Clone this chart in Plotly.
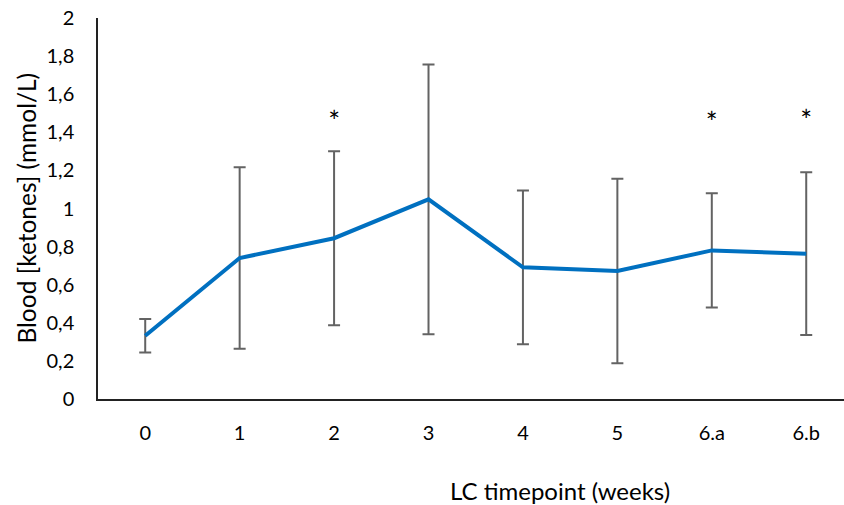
import plotly.graph_objects as go

# Timepoints on the LC protocol and mean blood ketone levels (mmol/L)
timepoints = ["0", "1", "2", "3", "4", "5", "6.a", "6.b"]
ketones = [0.332, 0.74, 0.844, 1.048, 0.691, 0.672, 0.78, 0.763]
ketones_err = [0.088, 0.476, 0.457, 0.708, 0.404, 0.484, 0.30, 0.427]

# Significance markers: timepoint and height
sig_points = ["2", "6.a", "6.b"]
sig_heights = [1.44, 1.433, 1.445]

y_ticks = [0, 0.2, 0.4, 0.6, 0.8, 1, 1.2, 1.4, 1.6, 1.8, 2]
y_ticklabels = ["0", "0,2", "0,4", "0,6", "0,8", "1", "1,2", "1,4", "1,6", "1,8", "2"]

FONT = "Lato, Calibri, Carlito, sans-serif"
x_idx = list(range(len(timepoints)))

fig = go.Figure()
fig.add_trace(go.Scatter(
    x=x_idx, y=ketones,
    mode="lines",
    line=dict(color="#0070C0", width=4),
    error_y=dict(type="data", array=ketones_err, visible=True,
                 color="#636363", thickness=2, width=6),
    showlegend=False, hoverinfo="skip",
))
fig.add_trace(go.Scatter(
    x=[timepoints.index(p) for p in sig_points], y=sig_heights,
    mode="text", text=["*"] * len(sig_points),
    textfont=dict(family=FONT, size=28, color="#000000"),
    textposition="middle center",
    showlegend=False, hoverinfo="skip",
))

fig.update_layout(
    width=844, height=505,
    margin=dict(l=98, r=0, t=18, b=106),
    paper_bgcolor="white", plot_bgcolor="white",
    font=dict(family=FONT, size=20, color="#000000"),
)
fig.update_xaxes(
    range=[-0.5, 7.4],
    tickvals=x_idx, ticktext=timepoints,
    showgrid=False, zeroline=False,
    showline=True, linecolor="#222222", linewidth=1.5,
    ticks="", ticklabelstandoff=15,
    tickfont=dict(family=FONT, size=20),
)
fig.update_yaxes(
    range=[0, 2],
    tickvals=y_ticks, ticktext=y_ticklabels,
    showgrid=False, zeroline=False,
    showline=True, linecolor="#222222", linewidth=1.5,
    ticks="", ticklabelstandoff=18,
    tickfont=dict(family=FONT, size=20),
)

fig.add_annotation(
    text="LC timepoint (weeks)", xref="paper", yref="paper",
    x=0.619, y=-0.239, showarrow=False, xanchor="center", yanchor="middle",
    font=dict(family=FONT, size=24),
)
fig.add_annotation(
    text="Blood [ketones] (mmol/L)", xref="paper", yref="paper",
    x=-0.0965, y=0.5, showarrow=False, textangle=-90,
    xanchor="center", yanchor="middle",
    font=dict(family=FONT, size=24.5),
)

fig.write_html("out.html")
